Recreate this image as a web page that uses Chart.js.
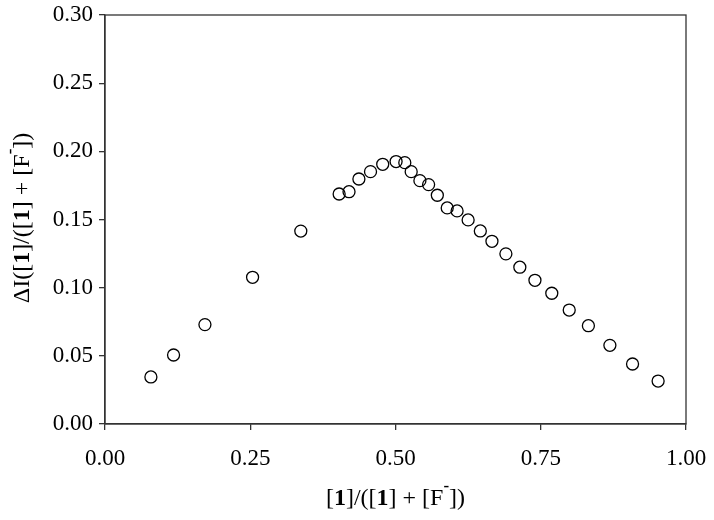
<!DOCTYPE html>
<html>
<head>
<meta charset="utf-8">
<script src="https://cdn.jsdelivr.net/npm/chart.js@4.4.1/dist/chart.umd.min.js"></script>
<style>
  body { margin: 0; background: #fff; }
  canvas { display: block; }
</style>
</head>
<body>
<canvas id="myChart" width="714" height="520"></canvas>
<script>
const xValues = [0.079, 0.118, 0.172, 0.254, 0.337, 0.403, 0.420, 0.437, 0.457, 0.478, 0.501, 0.516,
                 0.527, 0.542, 0.557, 0.572, 0.589, 0.606, 0.625, 0.646, 0.666, 0.690, 0.714, 0.740,
                 0.769, 0.799, 0.832, 0.869, 0.908, 0.952]
const yValues = [0.0345, 0.0506, 0.0729, 0.1076, 0.1415, 0.1687, 0.1704, 0.1797, 0.1851, 0.1905, 0.1925, 0.1917,
                 0.1851, 0.1785, 0.1756, 0.1678, 0.1585, 0.1563, 0.1497, 0.1416, 0.1340, 0.1248, 0.1150, 0.1054,
                 0.0959, 0.0836, 0.0721, 0.0577, 0.0440, 0.0315]
const xTicks = [0, 0.25, 0.5, 0.75, 1.0]
const yTicks = [0, 0.05, 0.10, 0.15, 0.20, 0.25, 0.30]

const FONT = '"Liberation Serif", "Times New Roman", serif'

points = []
for (i = 0; i < xValues.length; i++) {
    points.push({ x: xValues[i], y: yValues[i] })
}

// axis titles have a bold "1" and a superscript minus, so they are drawn in pieces
const xTitle = [['[', 'n'], ['1', 'b'], [']/([', 'n'], ['1', 'b'], ['] + [F', 'n'], ['-', 's'], ['])', 'n']]
const yTitle = [['ΔI([', 'n'], ['1', 'b'], [']/([', 'n'], ['1', 'b'], ['] + [F', 'n'], ['-', 's'], ['])', 'n']]

function segFont(kind) {
    if (kind == 'b') return 'bold 24px ' + FONT
    if (kind == 's') return 'bold 17px ' + FONT
    return '24px ' + FONT
}

function drawRich(ctx, segs, cx, cy, angle) {
    ctx.save()
    ctx.translate(cx, cy)
    ctx.rotate(angle)
    ctx.fillStyle = '#000'
    ctx.textBaseline = 'alphabetic'
    let w = 0
    for (const s of segs) {
        ctx.font = segFont(s[1])
        w += ctx.measureText(s[0]).width
    }
    let x = -w / 2
    for (const s of segs) {
        ctx.font = segFont(s[1])
        const dy = s[1] == 's' ? -14 : 0
        ctx.fillText(s[0], x, 8 + dy)
        x += ctx.measureText(s[0]).width
    }
    ctx.restore()
}

const framePlugin = {
    id: 'frame',
    afterDraw(chart) {
        const ctx = chart.ctx
        const a = chart.chartArea
        ctx.save()
        ctx.strokeStyle = '#333'
        ctx.lineWidth = 1.3
        ctx.strokeRect(a.left, a.top, a.right - a.left, a.bottom - a.top)
        ctx.restore()
        drawRich(ctx, xTitle, (a.left + a.right) / 2, 497, 0)
        drawRich(ctx, yTitle, 21, 218, -Math.PI / 2)
    }
}

var ctx = document.getElementById('myChart').getContext('2d');
var chart = new Chart(ctx, {
    type: 'scatter',
    data: {
        datasets: [{
            data: points,
            pointStyle: 'circle',
            pointRadius: 6,
            pointHoverRadius: 6,
            pointBorderWidth: 1.3,
            borderColor: '#000',
            backgroundColor: 'rgba(0,0,0,0)'
        }]
    },
    options: {
        responsive: false,
        animation: false,
        devicePixelRatio: 1,
        layout: { padding: { top: 15, right: 28, left: 0, bottom: 0 } },
        plugins: { legend: { display: false }, tooltip: { enabled: false } },
        scales: {
            x: {
                type: 'linear',
                min: 0,
                max: 1,
                afterBuildTicks: (scale) => { scale.ticks = xTicks.map(v => ({ value: v })) },
                afterFit: (scale) => {
                    scale.height = 96
                    scale.paddingLeft = 0
                    scale.paddingRight = 0
                },
                ticks: {
                    color: '#000',
                    font: { family: FONT, size: 23 },
                    padding: 15,
                    maxRotation: 0,
                    callback: (v) => Number(v).toFixed(2)
                },
                grid: { drawOnChartArea: false, drawTicks: true, tickLength: 6, color: '#333', lineWidth: 1.3 },
                border: { display: true, color: '#333', width: 1.3 }
            },
            y: {
                type: 'linear',
                min: 0,
                max: 0.3,
                afterBuildTicks: (scale) => { scale.ticks = yTicks.map(v => ({ value: v })) },
                afterFit: (scale) => {
                    scale.width = 105
                    scale.paddingTop = 0
                    scale.paddingBottom = 0
                },
                ticks: {
                    color: '#000',
                    font: { family: FONT, size: 23 },
                    padding: 6,
                    callback: (v) => Number(v).toFixed(2)
                },
                grid: { drawOnChartArea: false, drawTicks: true, tickLength: 6, color: '#333', lineWidth: 1.3 },
                border: { display: true, color: '#333', width: 1.3 }
            }
        }
    },
    plugins: [framePlugin]
});
</script>
</body>
</html>
